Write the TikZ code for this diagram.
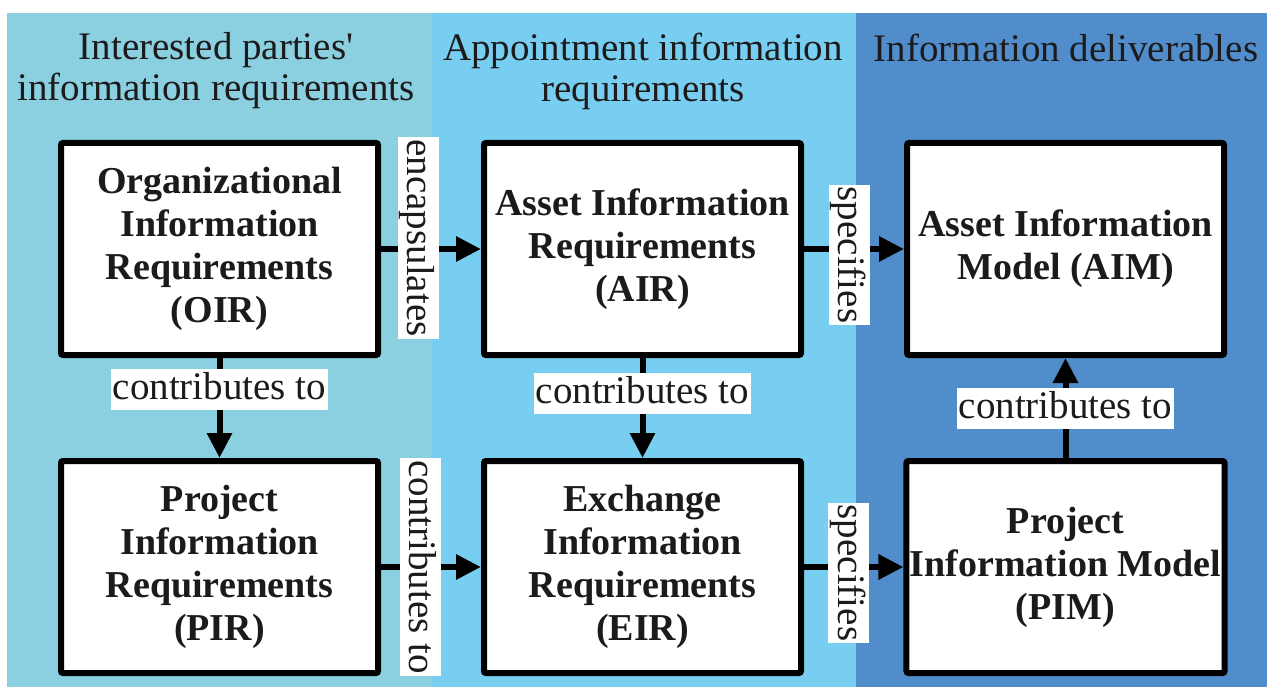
\documentclass[tikz,border=0pt]{standalone}
\usepackage{fontspec}
\setmainfont{Liberation Serif}
\usetikzlibrary{positioning,arrows.meta}
\definecolor{partyblue}{HTML}{8BD0E0}
\definecolor{appointblue}{HTML}{78CEF0}
\definecolor{deliverblue}{HTML}{518DCA}
\definecolor{ink}{HTML}{1C1A1B}

\begin{document}
\begin{tikzpicture}[x=1pt, y=-1pt,
    box/.style={draw=black, fill=white, line width=6pt, rounded corners=2pt,
      minimum width=317pt, minimum height=212pt, align=center, text=ink,
      font=\fontsize{38}{43}\selectfont\bfseries},
    head/.style={align=center, text=ink, font=\fontsize{39}{41}\selectfont},
    lbl/.style={fill=white, inner sep=2pt, text height=29pt, text depth=8pt,
      text=ink, font=\fontsize{39}{40}\selectfont},
    arr/.style={line width=6pt, -{Triangle[length=25pt,width=24pt]}},
    node distance=100pt and 100pt]
  \useasboundingbox (0,0) rectangle (1267,687);

  % Column bands
  \fill[partyblue]   (7,13)   rectangle (432,687);
  \fill[appointblue] (432,13) rectangle (856,687);
  \fill[deliverblue] (856,13) rectangle (1267,687);

  % Column headings
  \node[head] (hparty)   at (216,71)  {Interested parties\textquotesingle\\information requirements};
  \node[head] (happoint) at (643,71)  {Appointment information\\requirements};
  \node[head] (hdeliver) at (1066,48) {Information deliverables};

  % Define nodes
  \node[box]                (OIR) at (219.5,249) {Organizational\\Information\\Requirements\\(OIR)};
  \node[box, right=of OIR]  (AIR) {Asset Information\\Requirements\\(AIR)};
  \node[box, right=of AIR]  (AIM) {Asset Information\\Model (AIM)};
  \node[box, below=of OIR]  (PIR) {Project\\Information\\Requirements\\(PIR)};
  \node[box, below=of AIR]  (EIR) {Exchange\\Information\\Requirements\\(EIR)};
  \node[box, below=of AIM]  (PIM) {Project\\Information Model\\(PIM)};

  % Relations
  \draw[arr] (OIR) -- node[lbl, pos=.37, yshift=11pt, rotate=-90] {encapsulates} (AIR);
  \draw[arr] (AIR) -- node[lbl, pos=.45, yshift=-6pt, rotate=-90] {specifies} (AIM);
  \draw[arr] (PIR) -- node[lbl, pos=.39, rotate=-90] {contributes to} (EIR);
  \draw[arr] (EIR) -- node[lbl, pos=.45, yshift=-6pt, rotate=-90] {specifies} (PIM);
  \draw[arr] (OIR) -- node[lbl, pos=.31] {contributes to} (PIR);
  \draw[arr] (AIR) -- node[lbl, pos=.35] {contributes to} (EIR);
  \draw[arr] (PIM) -- node[lbl, pos=.5] {contributes to} (AIM);
\end{tikzpicture}
\end{document}
